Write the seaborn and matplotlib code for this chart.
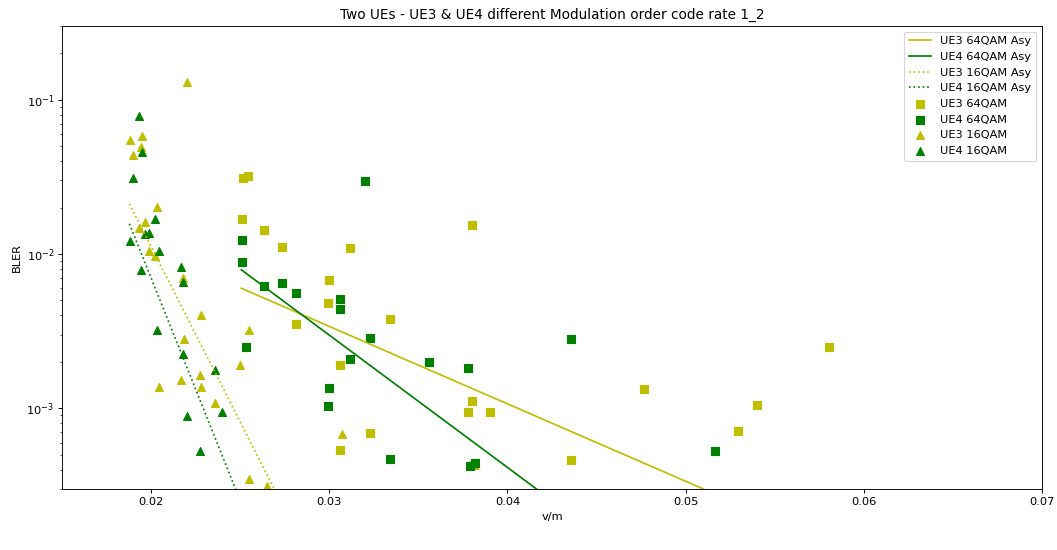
import matplotlib
matplotlib.use("Agg")
import matplotlib.pyplot as plt
import seaborn as sns

# --- asymptote fits (straight lines on the semilog axes, given by end points) ---
ue3_64_asy_x = [0.02506, 0.0510]
ue3_64_asy_y = [0.0060, 0.0003]
ue4_64_asy_x = [0.02506, 0.04163]
ue4_64_asy_y = [0.0079, 0.0003]
ue3_16_asy_x = [0.01878, 0.02691]
ue3_16_asy_y = [0.0211, 0.0003]
ue4_16_asy_x = [0.01878, 0.02474]
ue4_16_asy_y = [0.0157, 0.0003]

# --- measured BLER points ---
ue3_64_x = [0.02515, 0.02541, 0.02511, 0.02631, 0.02732, 0.02811, 0.03114, 0.0300,
            0.02994, 0.03343, 0.0306, 0.03226, 0.0306, 0.0380, 0.03803, 0.03777,
            0.03904, 0.0381, 0.04766, 0.04358, 0.05294, 0.05402, 0.05807]
ue3_64_y = [0.0313, 0.0318, 0.0169, 0.0143, 0.0111, 0.0035, 0.0110, 0.0068,
            0.0048, 0.0038, 0.0019, 0.00069, 0.00054, 0.0153, 0.00111, 0.00095,
            0.00095, 0.00043, 0.00133, 0.00046, 0.00071, 0.00105, 0.0025]

ue4_64_x = [0.02511, 0.02511, 0.02631, 0.02732, 0.02811, 0.02534, 0.03202, 0.0306,
            0.0306, 0.03226, 0.03114, 0.0300, 0.02994, 0.03343, 0.0356, 0.03777,
            0.03792, 0.03819, 0.04354, 0.05167]
ue4_64_y = [0.0123, 0.0089, 0.0062, 0.0065, 0.0056, 0.0025, 0.0298, 0.0051,
            0.0044, 0.00285, 0.0021, 0.00136, 0.00104, 0.00047, 0.0020, 0.00182,
            0.00042, 0.00044, 0.0028, 0.00053]

ue3_16_x = [0.02204, 0.01882, 0.01946, 0.01897, 0.01942, 0.02032, 0.01965, 0.01931,
            0.01987, 0.02021, 0.02178, 0.02281, 0.02549, 0.02182, 0.02500, 0.02275,
            0.02167, 0.02043, 0.02279, 0.02358, 0.02552, 0.02650, 0.03073]
ue3_16_y = [0.130, 0.055, 0.058, 0.0435, 0.049, 0.0203, 0.0160, 0.0147,
            0.0104, 0.0097, 0.0070, 0.0040, 0.0032, 0.0028, 0.0019, 0.00164,
            0.00153, 0.00137, 0.00137, 0.00108, 0.00035, 0.000316, 0.00068]

ue4_16_x = [0.01931, 0.01946, 0.01897, 0.02024, 0.01965, 0.01987, 0.01882, 0.02043,
            0.01942, 0.02167, 0.02178, 0.02032, 0.02178, 0.02358, 0.02200, 0.02399,
            0.02275]
ue4_16_y = [0.078, 0.046, 0.031, 0.0169, 0.0134, 0.0137, 0.0121, 0.0105,
            0.0079, 0.0082, 0.0066, 0.0032, 0.00226, 0.00177, 0.00089, 0.00095,
            0.00053]

YELLOW = "y"
GREEN = "g"
DPI = 82

fig, ax = plt.subplots(figsize=(1057 / DPI, 550 / DPI), dpi=DPI)
fig.subplots_adjust(left=0.0587, right=0.9858, top=0.9527, bottom=0.1109)
ax.set_yscale("log")

line_kw = dict(ax=ax, estimator=None, sort=False, linewidth=1.5)
sns.lineplot(x=ue3_64_asy_x, y=ue3_64_asy_y, color=YELLOW, linestyle="-",
             label="UE3 64QAM Asy", **line_kw)
sns.lineplot(x=ue4_64_asy_x, y=ue4_64_asy_y, color=GREEN, linestyle="-",
             label="UE4 64QAM Asy", **line_kw)
sns.lineplot(x=ue3_16_asy_x, y=ue3_16_asy_y, color=YELLOW, linestyle=":",
             label="UE3 16QAM Asy", **line_kw)
sns.lineplot(x=ue4_16_asy_x, y=ue4_16_asy_y, color=GREEN, linestyle=":",
             label="UE4 16QAM Asy", **line_kw)

pt_kw = dict(ax=ax, s=48, linewidth=1)
sns.scatterplot(x=ue3_64_x, y=ue3_64_y, marker="s", color=YELLOW, edgecolor=YELLOW,
                label="UE3 64QAM", **pt_kw)
sns.scatterplot(x=ue4_64_x, y=ue4_64_y, marker="s", color=GREEN, edgecolor=GREEN,
                label="UE4 64QAM", **pt_kw)
sns.scatterplot(x=ue3_16_x, y=ue3_16_y, marker="^", color=YELLOW, edgecolor=YELLOW,
                label="UE3 16QAM", **pt_kw)
sns.scatterplot(x=ue4_16_x, y=ue4_16_y, marker="^", color=GREEN, edgecolor=GREEN,
                label="UE4 16QAM", **pt_kw)

ax.set_xlim(0.015, 0.07)
ax.set_ylim(3e-4, 0.3)
ax.set_xticks([0.02, 0.03, 0.04, 0.05, 0.06, 0.07])
ax.set_xlabel("v/m")
ax.set_ylabel("BLER")
ax.set_title("Two UEs - UE3 & UE4 different Modulation order code rate 1_2")
ax.legend(loc="upper right", fontsize=10)

fig.savefig("out.png", dpi=DPI)
